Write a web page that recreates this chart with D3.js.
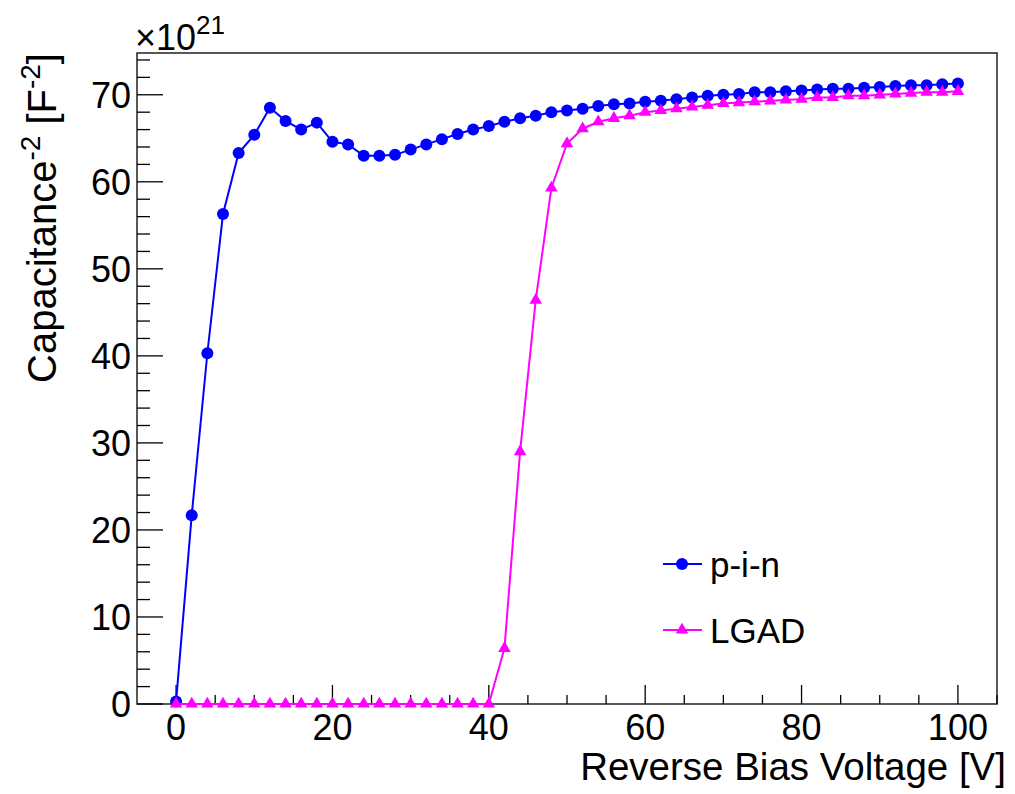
<!DOCTYPE html>
<html>
<head>
<meta charset="utf-8">
<script src="https://cdn.jsdelivr.net/npm/d3@7"></script>
<style>
  html, body { margin: 0; padding: 0; background: #fff; }
  svg { display: block; font-family: "Liberation Sans", Arial, Helvetica, sans-serif; }
</style>
</head>
<body>
<svg id="chart" width="1015" height="794"></svg>
<script>
// Reverse bias voltage [V]
const voltage = [0, 2, 4, 6, 8, 10, 12, 14, 16, 18, 20, 22, 24, 26, 28, 30, 32, 34, 36, 38, 40,
  42, 44, 46, 48, 50, 52, 54, 56, 58, 60, 62, 64, 66, 68, 70, 72, 74, 76, 78, 80,
  82, 84, 86, 88, 90, 92, 94, 96, 98, 100];

// 1/C^2 in units of 1e21 F^-2
const pinValues = [0.3, 21.7, 40.3, 56.3, 63.3, 65.4, 68.5, 67.0, 66.0, 66.8, 64.6,
  64.3, 63.0, 63.0, 63.1, 63.7, 64.3, 64.9, 65.5, 66.0, 66.4,
  66.9, 67.3, 67.6, 68.0, 68.2, 68.4, 68.7, 68.9, 69.0, 69.2,
  69.3, 69.5, 69.7, 69.9, 70.0, 70.1, 70.3, 70.3, 70.4, 70.5,
  70.6, 70.7, 70.7, 70.8, 70.9, 71.0, 71.1, 71.1, 71.2, 71.3];

const lgadValues = [0, 0, 0, 0, 0, 0, 0, 0, 0, 0, 0,
  0, 0, 0, 0, 0, 0, 0, 0, 0, 0,
  6.4, 29.0, 46.4, 59.3, 64.4, 66.1, 66.9, 67.3, 67.6, 68.0,
  68.2, 68.4, 68.6, 68.8, 69.0, 69.1, 69.2, 69.3, 69.4, 69.5,
  69.7, 69.7, 69.9, 69.9, 70.0, 70.1, 70.2, 70.3, 70.3, 70.4];

const seriesNames = ["p-i-n", "LGAD"];
const xTickValues = [0, 20, 40, 60, 80, 100];
const yTickValues = [0, 10, 20, 30, 40, 50, 60, 70];

const svg = d3.select("#chart");
const frame = { left: 137, right: 997, top: 53, bottom: 704 };

const x = d3.scaleLinear().domain([-5, 105]).range([frame.left, frame.right]);
const y = d3.scaleLinear().domain([0, 74.8]).range([frame.bottom, frame.top]);

// Frame box
svg.append("rect")
  .attr("x", frame.left).attr("y", frame.top)
  .attr("width", frame.right - frame.left).attr("height", frame.bottom - frame.top)
  .attr("fill", "none").attr("stroke", "#222").attr("stroke-width", 1.5);

// X axis: ticks point inward (upwards)
const xMinor = d3.range(0, 105.01, 5);
const xAxisG = svg.append("g");
xAxisG.selectAll("line.minor").data(xMinor).join("line")
  .attr("x1", d => x(d)).attr("x2", d => x(d))
  .attr("y1", frame.bottom).attr("y2", d => frame.bottom - (d % 20 === 0 ? 19 : 9))
  .attr("stroke", "#000").attr("stroke-width", 1.3);
xAxisG.selectAll("text").data(xTickValues).join("text")
  .attr("x", d => x(d)).attr("y", 740)
  .attr("text-anchor", "middle")
  .attr("font-size", 36).attr("fill", "#000")
  .text(d => d3.format("d")(d));

// Y axis: ticks point inward (rightwards)
const yMinor = d3.range(0, 74.01, 2);
const yAxisG = svg.append("g");
yAxisG.selectAll("line").data(yMinor).join("line")
  .attr("x1", frame.left).attr("x2", d => frame.left + (d % 10 === 0 ? 26 : 13))
  .attr("y1", d => y(d)).attr("y2", d => y(d))
  .attr("stroke", "#000").attr("stroke-width", 1.3);
yAxisG.selectAll("text").data(yTickValues).join("text")
  .attr("x", 131).attr("y", d => y(d))
  .attr("dy", "0.36em")
  .attr("text-anchor", "end")
  .attr("font-size", 36).attr("fill", "#000")
  .text(d => d3.format("d")(d));

// Exponent label
const expo = svg.append("text").attr("x", 135).attr("y", 50).attr("font-size", 36).attr("fill", "#000");
expo.append("tspan").text("\u00d710");
expo.append("tspan").attr("dy", -16).attr("font-size", 26).text("21");

// Axis titles
svg.append("text")
  .attr("x", 1006).attr("y", 780)
  .attr("text-anchor", "end")
  .attr("font-size", 38.5).attr("fill", "#000")
  .text("Reverse Bias Voltage [V]");

const yTitle = svg.append("text")
  .attr("transform", "translate(56,53) rotate(-90)")
  .attr("text-anchor", "end")
  .attr("font-size", 40).attr("fill", "#000");
yTitle.append("tspan").text("Capacitance");
yTitle.append("tspan").attr("dy", -16).attr("font-size", 28).text("-2");
yTitle.append("tspan").attr("dy", 16).text(" [F");
yTitle.append("tspan").attr("dy", -16).attr("font-size", 28).text("-2");
yTitle.append("tspan").attr("dy", 16).text("]");

// Series
const pinData = voltage.map((v, i) => ({ v, c: pinValues[i] }));
const lgadData = voltage.map((v, i) => ({ v, c: lgadValues[i] }));

const line = d3.line().x(d => x(d.v)).y(d => y(d.c));
const circleSym = d3.symbol().type(d3.symbolCircle).size(Math.PI * 6 * 6);
const triSym = d3.symbol().type(d3.symbolTriangle).size(68);

const plot = svg.append("g");

plot.append("path").datum(pinData)
  .attr("d", line).attr("fill", "none").attr("stroke", "#0000ff").attr("stroke-width", 2);
plot.selectAll("path.pin").data(pinData).join("path")
  .attr("class", "pin")
  .attr("transform", d => `translate(${x(d.v)},${y(d.c)})`)
  .attr("d", circleSym).attr("fill", "#0000ff");

plot.append("path").datum(lgadData)
  .attr("d", line).attr("fill", "none").attr("stroke", "#ff00ff").attr("stroke-width", 2);
plot.selectAll("path.lgad").data(lgadData).join("path")
  .attr("class", "lgad")
  .attr("transform", d => `translate(${x(d.v)},${y(d.c)})`)
  .attr("d", triSym).attr("fill", "#ff00ff");

// Legend
const legend = svg.append("g");
const legendRows = [
  { name: seriesNames[0], color: "#0000ff", sym: circleSym, cy: 564 },
  { name: seriesNames[1], color: "#ff00ff", sym: triSym, cy: 630 }
];
legendRows.forEach(r => {
  legend.append("line")
    .attr("x1", 663).attr("x2", 702).attr("y1", r.cy).attr("y2", r.cy)
    .attr("stroke", r.color).attr("stroke-width", 2);
  legend.append("path")
    .attr("transform", `translate(682,${r.cy})`)
    .attr("d", r.sym).attr("fill", r.color);
  legend.append("text")
    .attr("x", 710).attr("y", r.cy)
    .attr("dy", "0.36em")
    .attr("font-size", 35).attr("fill", "#000")
    .text(r.name);
});
</script>
</body>
</html>
